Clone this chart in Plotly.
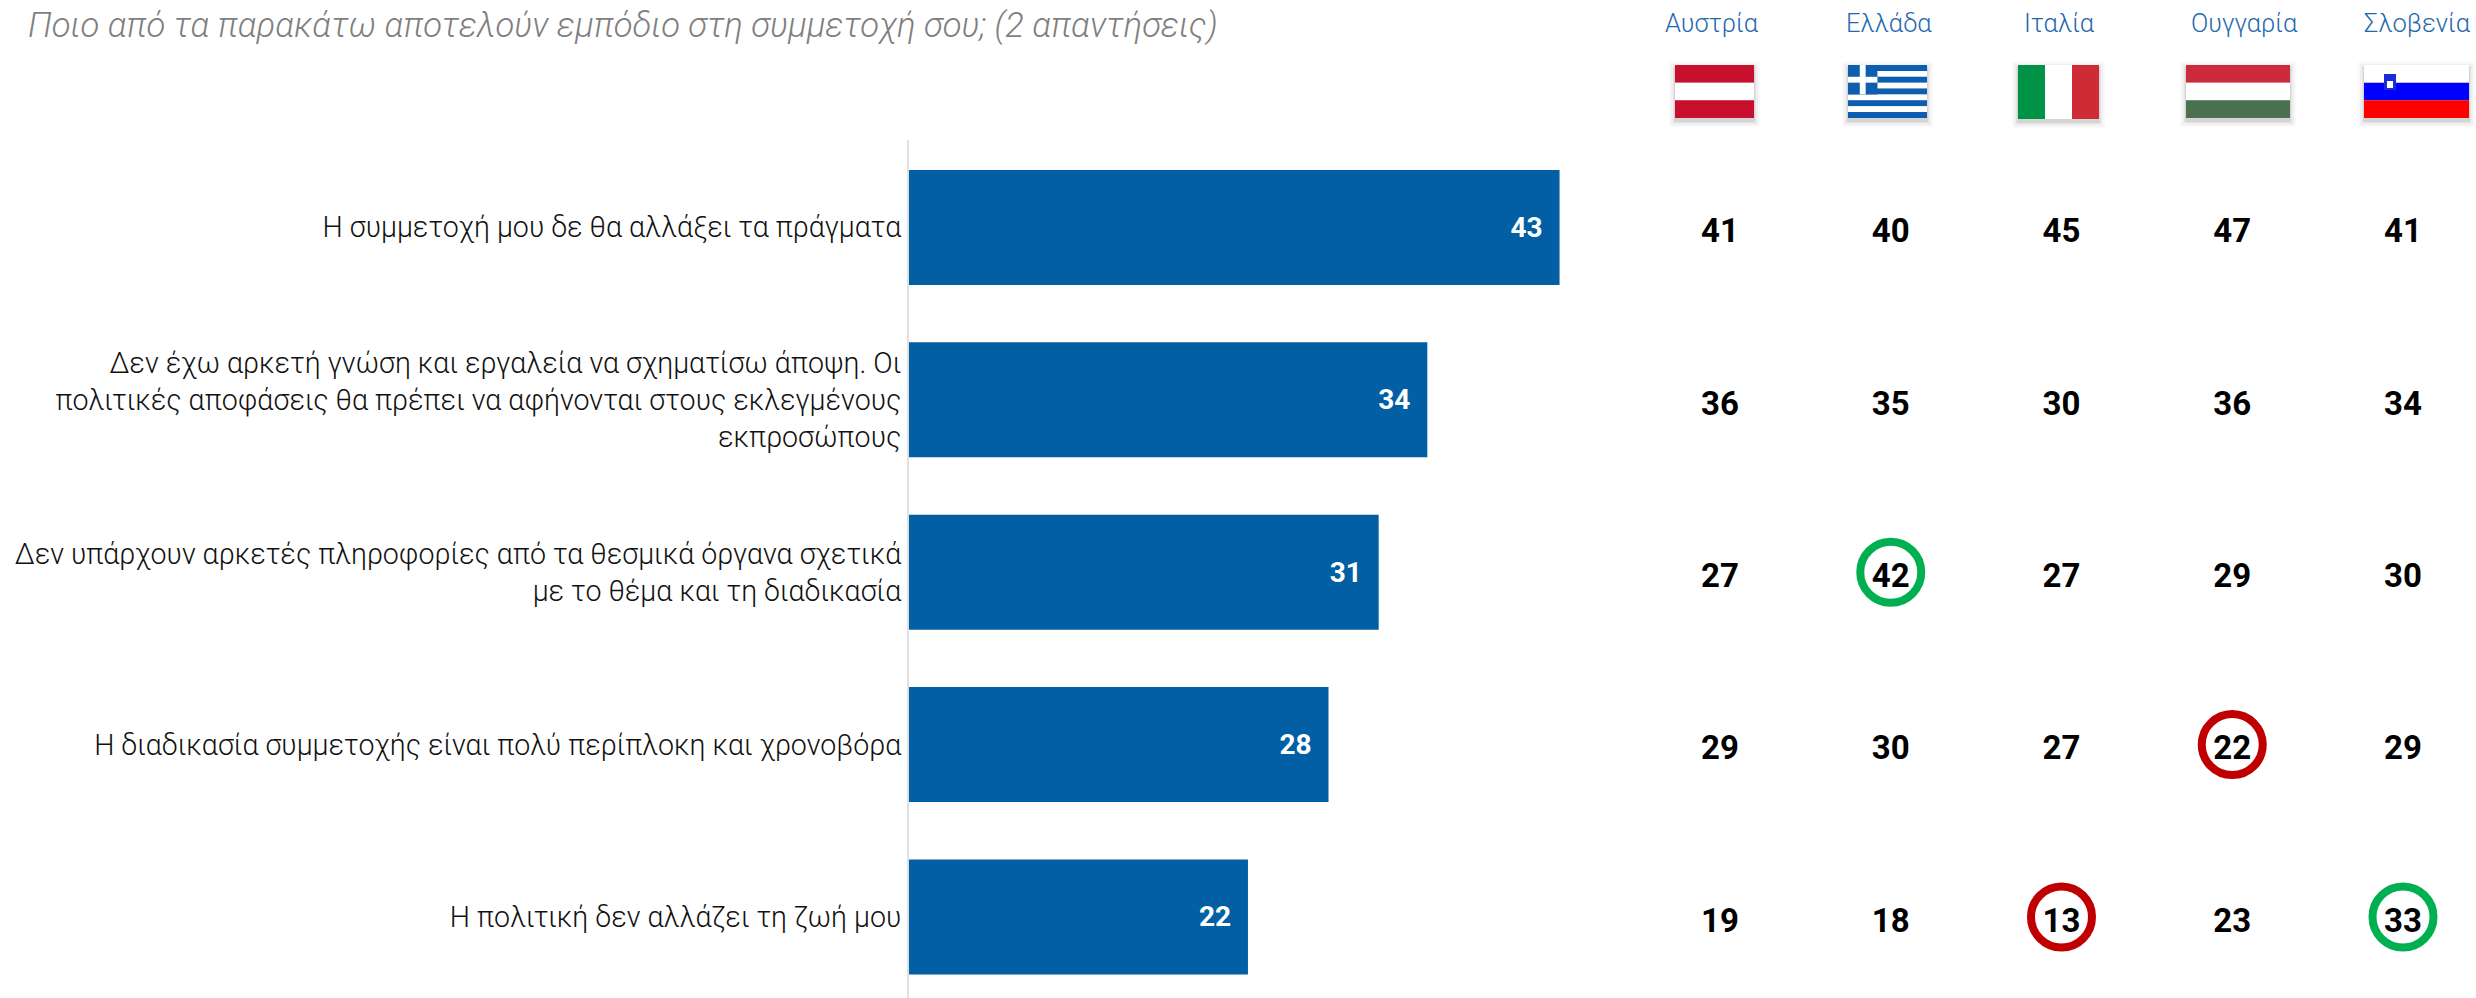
import plotly.graph_objects as go

W, H = 2476, 998

# ---------- data ----------
title_text = "Ποιο από τα παρακάτω αποτελούν εμπόδιο στη συμμετοχή σου; (2 απαντήσεις)"
categories = [
    "Η συμμετοχή μου δε θα αλλάξει τα πράγματα",
    "Δεν έχω αρκετή γνώση και εργαλεία να σχηματίσω άποψη. Οι<br>πολιτικές αποφάσεις θα πρέπει να αφήνονται στους εκλεγμένους<br>εκπροσώπους",
    "Δεν υπάρχουν αρκετές πληροφορίες από τα θεσμικά όργανα σχετικά<br>με το θέμα και τη διαδικασία",
    "Η διαδικασία συμμετοχής είναι πολύ περίπλοκη και χρονοβόρα",
    "Η πολιτική δεν αλλάζει τη ζωή μου",
]
total_values = [42.8, 34.1, 30.9, 27.6, 22.3]
countries = ["Αυστρία", "Ελλάδα", "Ιταλία", "Ουγγαρία", "Σλοβενία"]
austria = [41, 36, 27, 29, 19]
greece = [40, 35, 42, 30, 18]
italy = [45, 30, 27, 27, 13]
hungary = [47, 36, 29, 22, 23]
slovenia = [41, 34, 30, 29, 33]
high_countries = ["Ελλάδα", "Σλοβενία"]
high_rows = [2, 4]
low_countries = ["Ουγγαρία", "Ιταλία"]
low_rows = [3, 4]

# ---------- style ----------
FONT = "Roboto"
BLUE = "#025FA3"
HEAD = "#1F69AE"
GREEN = "#00B050"
RED = "#C00000"

PLOT_T = 140
SPLIT = 1640
AXIS_X = 909
rows = list(range(len(categories)))
y_range = [4.47, -0.5075]
text_shift = 6.5 / 172.4
text_range = [y_range[0] - text_shift, y_range[1] - text_shift]


def px(x):
    return x / W


def py(y):
    # paper coordinates are measured on the plot area, which starts under the top margin
    return 1 - (y - PLOT_T) / (H - PLOT_T)


fig = go.Figure()
fig.add_bar(
    x=total_values, y=rows, orientation="h", width=0.667,
    marker=dict(color=BLUE, line=dict(width=0)),
    text=[f"{round(v)}\u00a0\u00a0" for v in total_values],
    textposition="inside", insidetextanchor="end", textangle=0, cliponaxis=False,
    insidetextfont=dict(family=FONT, size=28, color="white", weight="bold"),
    xaxis="x", yaxis="y", showlegend=False, hoverinfo="skip",
)

for col, vals in zip(countries, [austria, greece, italy, hungary, slovenia]):
    fig.add_scatter(
        x=[col] * len(vals), y=rows, mode="text", text=[str(v) for v in vals],
        textposition="middle center",
        textfont=dict(family=FONT, size=33, color="black", weight="bold"),
        xaxis="x2", yaxis="y2", showlegend=False, hoverinfo="skip", cliponaxis=False,
    )

for xs, ys, color in [(high_countries, high_rows, GREEN), (low_countries, low_rows, RED)]:
    fig.add_scatter(
        x=xs, y=ys, mode="markers",
        marker=dict(symbol="circle-open", size=61, color=color, line=dict(width=8, color=color)),
        xaxis="x2", yaxis="y3", showlegend=False, hoverinfo="skip", cliponaxis=False,
    )

# ---------- flags (decoration, pixel placed) ----------
shapes = []


def rect(x0, y0, x1, y1, color, opacity=1.0):
    shapes.append(dict(type="rect", xref="paper", yref="paper", x0=px(x0), x1=px(x1),
                       y0=py(y0), y1=py(y1), fillcolor=color, opacity=opacity,
                       line=dict(width=0), layer="above"))


def shadow(x0, y0, x1, y1):
    for g, o in [(6, 0.025), (4, 0.035), (2, 0.05), (1, 0.06)]:
        rect(x0 - g, y0 - g + 3, x1 + g, y1 + g + 3, "#000000", o)


def hbands(x0, y0, x1, y1, colors):
    shadow(x0, y0, x1, y1)
    h = (y1 - y0) / len(colors)
    for i, c in enumerate(colors):
        rect(x0, y0 + i * h, x1, y0 + (i + 1) * h, c)


hbands(1675, 65, 1754, 118, ["#C8102E", "#FFFFFF", "#C8102E"])
hbands(1848, 65, 1927, 118, ["#0D5EAF", "#FFFFFF"] * 4 + ["#0D5EAF"])
s = 53 / 9
rect(1848, 65, 1848 + 5 * s, 65 + 5 * s, "#0D5EAF")
rect(1848, 65 + 2 * s, 1848 + 5 * s, 65 + 3 * s, "#FFFFFF")
rect(1848 + 2 * s, 65, 1848 + 3 * s, 65 + 5 * s, "#FFFFFF")
shadow(2018, 65, 2099, 119)
for i, c in enumerate(["#009246", "#FFFFFF", "#CE2B37"]):
    rect(2018 + i * 27, 65, 2018 + (i + 1) * 27, 119, c)
hbands(2186, 65, 2290, 118, ["#CD2A3E", "#FFFFFF", "#4A7050"])
hbands(2364, 65, 2469, 118, ["#FFFFFF", "#0000FF", "#FF0000"])
rect(2384, 74, 2396, 90, "#1A2BD8")
rect(2387, 81, 2393, 88, "#FFFFFF")

# ---------- headers ----------
header_x = [1712, 1889, 2059, 2244, 2417]
annotations = [
    dict(text=c, x=px(x), y=py(23), xref="paper", yref="paper", xanchor="center",
         yanchor="middle", showarrow=False,
         font=dict(family=FONT, size=25.5, color=HEAD, weight=300))
    for c, x in zip(countries, header_x)
]

fig.update_layout(
    width=W, height=H, paper_bgcolor="white", plot_bgcolor="white",
    margin=dict(l=0, r=0, t=PLOT_T, b=0), showlegend=False,
    title=dict(text=title_text, x=px(28), xref="container", xanchor="left",
               y=1 - 25 / H, yref="container", yanchor="middle",
               font=dict(family=FONT, size=34.6, color="#7F7F7F", style="italic", weight=300)),
    xaxis=dict(domain=[px(AXIS_X), px(SPLIT)], range=[0, (SPLIT - AXIS_X) / 15.2],
               visible=False, fixedrange=True),
    yaxis=dict(domain=[0, 1], range=y_range, tickmode="array", tickvals=rows,
               ticktext=categories, ticks="", showgrid=False, zeroline=False,
               showline=True, linecolor="#E0E0E0", linewidth=2, anchor="x",
               tickfont=dict(family=FONT, size=28.6, color="#111111", weight=300),
               fixedrange=True),
    xaxis2=dict(domain=[px(SPLIT), 1], type="category", categoryorder="array",
                categoryarray=countries,
                range=[-(1720 - SPLIT) / 170.75, (W - 1720) / 170.75],
                visible=False, fixedrange=True),
    yaxis2=dict(domain=[0, 1], range=text_range, visible=False, anchor="x2", fixedrange=True),
    yaxis3=dict(domain=[0, 1], range=y_range, visible=False, anchor="x2", overlaying="y2",
                fixedrange=True),
    shapes=shapes, annotations=annotations,
)

fig.write_html("out.html", config=dict(displayModeBar=False),
               post_script="document.body.style.margin='0';")
